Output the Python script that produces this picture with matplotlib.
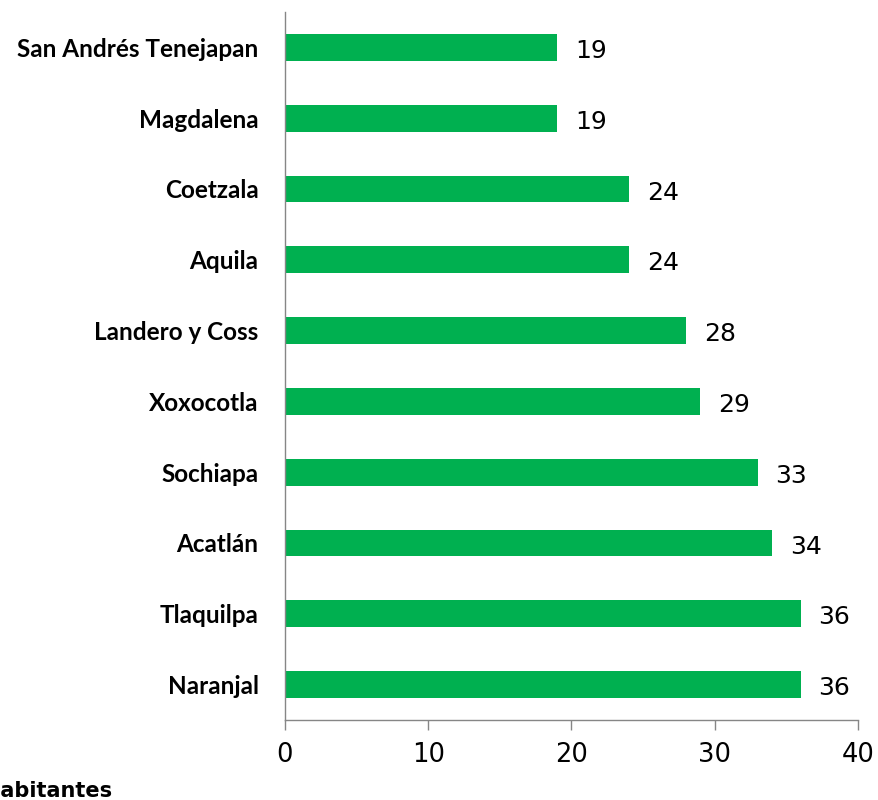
import matplotlib.pyplot as plt

municipios = ['Naranjal', 'Tlaquilpa', 'Acatlán', 'Sochiapa', 'Xoxocotla',
              'Landero y Coss', 'Aquila', 'Coetzala', 'Magdalena',
              'San Andrés Tenejapan']
valores = [36, 36, 34, 33, 29, 28, 24, 24, 19, 19]
xticks = [0, 10, 20, 30, 40]

verde = '#00B050'
gris = '#868686'

fig = plt.figure(figsize=(8.79, 8), dpi=100)
ax = fig.add_axes([0.3242, 0.1, 0.6519, 0.885])

pos = range(len(municipios))
ax.barh(pos, valores, height=0.38, color=verde, zorder=2)

for p, v in zip(pos, valores):
    ax.text(v + 1.25, p - 0.05, str(v), va='center', ha='left',
            fontsize=18, family='DejaVu Sans', color='black')

ax.set_xlim(0, 40)
ax.set_ylim(-0.5, len(municipios) - 0.5)
ax.set_xticks(xticks)
ax.set_xticklabels([str(t) for t in xticks], fontsize=18.5, family='DejaVu Sans')
ax.set_yticks(list(pos))
ax.set_yticklabels(municipios, fontsize=17.5, fontweight='bold', family='Lato')

ax.tick_params(axis='x', direction='out', length=7, width=1, color=gris, pad=9)
ax.tick_params(axis='y', length=0, pad=19)

for s in ['top', 'right']:
    ax.spines[s].set_visible(False)
for s in ['left', 'bottom']:
    ax.spines[s].set_color(gris)
    ax.spines[s].set_linewidth(1)

# título del eje, recortado por el borde izquierdo
fig.text(112 / 879, 0.004, 'Habitantes', ha='right', va='baseline',
         fontsize=15, fontweight='bold', family='DejaVu Sans')

fig.savefig('out.png', dpi=100)
